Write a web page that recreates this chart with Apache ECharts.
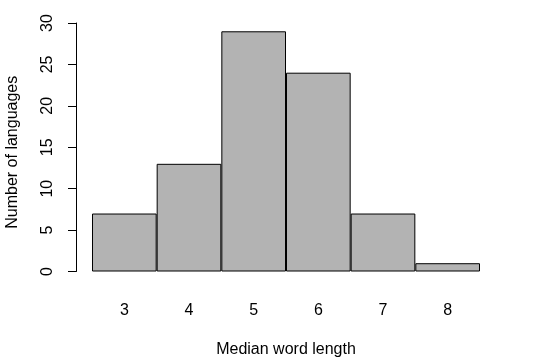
<!DOCTYPE html>
<html><head><meta charset="utf-8">
<script src="https://cdn.jsdelivr.net/npm/echarts@6/dist/echarts.min.js"></script>
<style>html,body{margin:0;padding:0;background:#fff}#c{width:535px;height:362px}</style>
</head><body><div id="c"></div>
<script>
const categories = ['3','4','5','6','7','8'];
const counts = [7, 13, 29, 24, 7, 1];
const yTicks = [0, 5, 10, 15, 20, 25, 30];

const font = 'Liberation Sans, Arial, Helvetica, sans-serif';
const chart = echarts.init(document.getElementById('c'), null, {renderer: 'canvas'});
chart.setOption({
  animation: false,
  backgroundColor: '#fff',
  grid: {left: 92, right: 55, top: 23, bottom: 90.5, containLabel: false, outerBoundsMode: 'none'},
  xAxis: {
    type: 'category',
    data: categories,
    axisLine: {show: false},
    axisTick: {show: false},
    axisLabel: {margin: 31, fontSize: 16, color: '#000', fontFamily: font},
    name: 'Median word length',
    nameLocation: 'middle',
    nameGap: 70,
    nameTextStyle: {fontSize: 16, color: '#000', fontFamily: font}
  },
  yAxis: {
    type: 'value',
    min: yTicks[0], max: yTicks[yTicks.length-1], interval: 5,
    offset: 16,
    splitLine: {show: false},
    axisLine: {show: true, lineStyle: {color: '#000', width: 1}},
    axisTick: {show: true, length: 8, lineStyle: {color: '#000'}},
    axisLabel: {rotate: 90, margin: 20, fontSize: 16, color: '#000', fontFamily: font},
    name: 'Number of languages',
    nameLocation: 'middle',
    nameGap: 55,
    nameTextStyle: {fontSize: 16, color: '#000', fontFamily: font, padding: [0, 10, 0, 0]}
  },
  series: [{
    type: 'bar',
    data: counts,
    barCategoryGap: 0,
    itemStyle: {color: '#b3b3b3', borderColor: '#000', borderWidth: 1}
  }]
});
</script></body></html>
